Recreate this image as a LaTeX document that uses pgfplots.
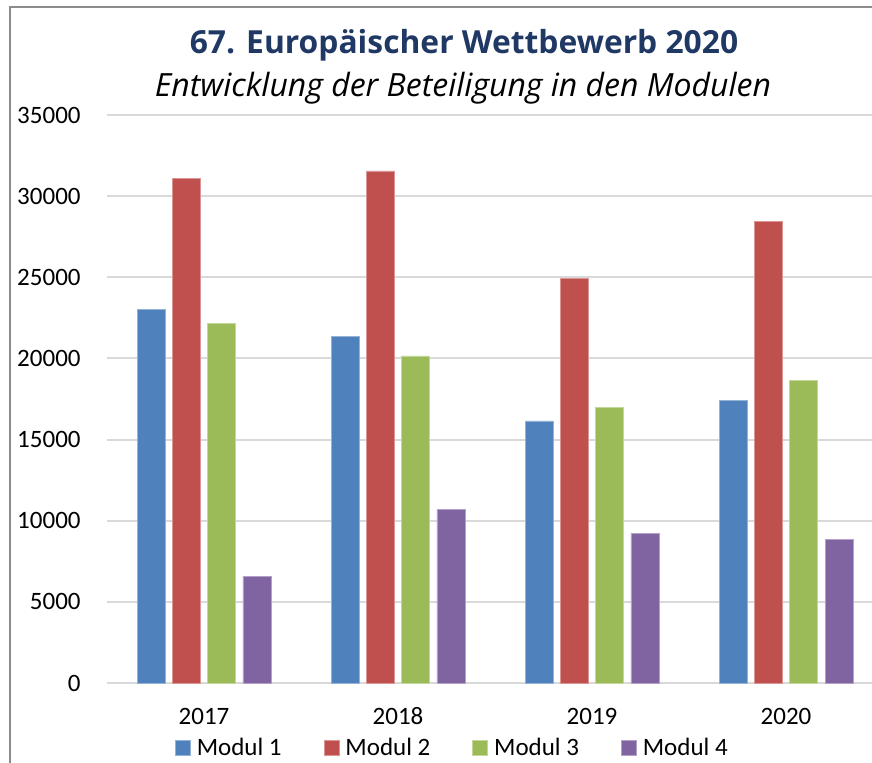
\documentclass[border=0pt]{standalone}
\usepackage{fontspec}
\setmainfont{Carlito}
\newfontfamily\titlefont{Open Sans}
\usepackage{pgfplots}
\pgfplotsset{compat=1.18}
\definecolor{mblue}{RGB}{79,129,189}
\definecolor{mred}{RGB}{192,80,77}
\definecolor{mgreen}{RGB}{155,187,89}
\definecolor{mpurple}{RGB}{128,100,162}
\definecolor{titleblue}{RGB}{31,56,100}
\definecolor{gridgray}{RGB}{217,217,217}
\definecolor{framegray}{RGB}{140,140,140}
\begin{document}
\begin{tikzpicture}
\useasboundingbox (0,0) rectangle (436pt,-381.5pt);
\draw[framegray, line width=1pt] (5pt,-385pt) -- (5pt,-3.5pt) -- (440pt,-3.5pt);
\node[anchor=base, text=titleblue, inner sep=0pt] at (232pt,-27pt)
  {\titlefont\bfseries\fontsize{15.9pt}{19pt}\selectfont 67. Europäischer Wettbewerb 2020};
\node[anchor=base, inner sep=0pt] at (231.5pt,-48.5pt)
  {\titlefont\itshape\fontsize{16pt}{19pt}\selectfont Entwicklung der Beteiligung in den Modulen};
\begin{axis}[
  at={(53.5pt,-341.5pt)}, anchor=south west,
  scale only axis, width=382.5pt, height=284pt,
  xmin=-0.5, xmax=3.443, ymin=0, ymax=35000,
  ybar=3.65pt, bar width=14pt,
  xtick={0,1,2,3}, xticklabels={2017,2018,2019,2020},
  ytick={0,5000,...,35000},
  scaled y ticks=false,
  /pgf/number format/assume math mode=true,
  yticklabel={\pgfmathprintnumber[fixed,1000 sep={}]{\tick}},
  tick label style={font=\fontsize{12.5pt}{15pt}\selectfont},
  yticklabel style={anchor=east, inner sep=0pt, xshift=-13pt},
  xticklabel style={anchor=base, inner sep=0pt, yshift=-20.6pt},
  major tick length=0pt,
  axis line style={draw=none},
  ymajorgrids, major grid style={gridgray, line width=1pt},
  clip=false,
  legend columns=4,
  legend style={at={(axis description cs:0.0889,-0.1144)}, anchor=west,
    draw=none, fill=none, inner sep=0pt, outer sep=0pt,
    font=\fontsize{12.5pt}{15pt}\selectfont,
    nodes={inner sep=0pt},
    /tikz/every odd column/.append style={column sep=3pt},
    /tikz/every even column/.append style={column sep=21pt}},
  legend image code/.code={\fill[#1] (0pt,-3.6pt) rectangle (7.5pt,3.6pt);},
]
\addplot[fill=mblue, draw=mblue!60!white, line width=0.4pt] coordinates {(0,23000) (1,21350) (2,16150) (3,17400)};
\addplot[fill=mred, draw=mred!60!white, line width=0.4pt] coordinates {(0,31100) (1,31550) (2,24950) (3,28450)};
\addplot[fill=mgreen, draw=mgreen!60!white, line width=0.4pt] coordinates {(0,22150) (1,20150) (2,17000) (3,18670)};
\addplot[fill=mpurple, draw=mpurple!60!white, line width=0.4pt] coordinates {(0,6570) (1,10680) (2,9200) (3,8850)};
\legend{Modul 1, Modul 2, Modul 3, Modul 4}
\end{axis}
\end{tikzpicture}
\end{document}
